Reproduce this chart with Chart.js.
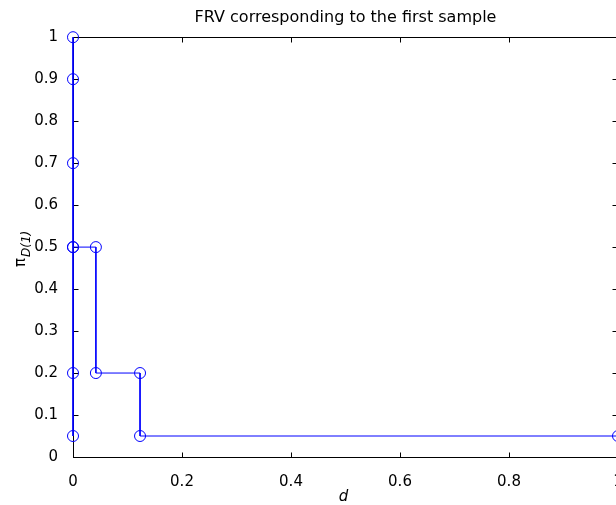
<!DOCTYPE html>
<html>
<head>
<meta charset="utf-8">
<script src="https://cdn.jsdelivr.net/npm/chart.js@4"></script>
<style>
  html, body { margin: 0; padding: 0; overflow: hidden; background: #fff; }
</style>
</head>
<body>
<canvas id="frvChart" width="640" height="505"></canvas>
<script>
var titleText = 'FRV corresponding to the first sample';

var xTicks = [0, 0.2, 0.4, 0.6, 0.8, 1];
var xTickLabels = ['0', '0.2', '0.4', '0.6', '0.8', '1'];
var yTicks = [0, 0.1, 0.2, 0.3, 0.4, 0.5, 0.6, 0.7, 0.8, 0.9, 1];
var yTickLabels = ['0', '0.1', '0.2', '0.3', '0.4', '0.5', '0.6', '0.7', '0.8', '0.9', '1'];

// points sitting on d = 0
var leftX = [0, 0, 0, 0, 0, 0];
var leftY = [1, 0.9, 0.7, 0.5, 0.2, 0.05];

// the step branch leaving from 0.5
var stepX = [0, 0.042, 0.042, 0.123, 0.123, 1];
var stepY = [0.5, 0.5, 0.2, 0.2, 0.05, 0.05];

function toPoints(xs, ys) {
  var pts = [];
  for (var i = 0; i < xs.length; i++) {
    pts.push({x: xs[i], y: ys[i]});
  }
  return pts;
}

function labelFor(ticks, labels, value) {
  for (var i = 0; i < ticks.length; i++) {
    if (Math.abs(ticks[i] - value) < 1e-9) return labels[i];
  }
  return '';
}

var fontFamily = "'DejaVu Sans', 'Liberation Sans', sans-serif";

// box round the axes, with the ticks pointing inwards like matlab does
var matlabAxes = {
  id: 'matlabAxes',
  beforeDatasetsDraw: function(chart) {
    var ctx = chart.ctx;
    var a = chart.chartArea;
    var x = chart.scales.x;
    var y = chart.scales.y;
    var L = Math.round(a.left) + 0.5, R = Math.round(a.right) + 0.5;
    var T = Math.round(a.top) + 0.5, B = Math.round(a.bottom) + 0.5;
    ctx.save();
    ctx.strokeStyle = '#000';
    ctx.lineWidth = 1;
    ctx.strokeRect(L, T, R - L, B - T);
    ctx.beginPath();
    xTicks.forEach(function(t) {
      var px = Math.round(x.getPixelForValue(t)) + 0.5;
      ctx.moveTo(px, B); ctx.lineTo(px, B - 5);
      ctx.moveTo(px, T); ctx.lineTo(px, T + 5);
    });
    yTicks.forEach(function(t) {
      var py = Math.round(y.getPixelForValue(t)) + 0.5;
      ctx.moveTo(L, py); ctx.lineTo(L + 5, py);
      ctx.moveTo(R, py); ctx.lineTo(R - 6, py);
    });
    ctx.stroke();
    ctx.restore();
  },
  afterDraw: function(chart) {
    var ctx = chart.ctx;
    var a = chart.chartArea;
    ctx.save();
    ctx.fillStyle = '#000';
    // x label
    ctx.font = 'italic 15px ' + fontFamily;
    ctx.textAlign = 'center';
    ctx.textBaseline = 'alphabetic';
    ctx.fillText('d', (a.left + a.right) / 2 - 2, 501);
    // y label: pi with subscript D(1)
    ctx.translate(25, 267);
    ctx.rotate(-Math.PI / 2);
    ctx.textAlign = 'left';
    ctx.font = '15px ' + fontFamily;
    ctx.fillText('\u03c0', 0, 0);
    var w = ctx.measureText('\u03c0').width;
    ctx.font = 'italic 12px ' + fontFamily;
    ctx.fillText('D(1)', w + 1, 5);
    ctx.restore();
  }
};

var ctx = document.getElementById('frvChart');
var frvChart = new Chart(ctx, {
  type: 'scatter',
  data: {
    datasets: [
      {
        data: toPoints(leftX, leftY),
        showLine: true,
        borderColor: '#0000ff',
        borderWidth: 1,
        pointStyle: 'circle',
        pointRadius: 5.5,
        pointBorderWidth: 1,
        pointBorderColor: '#0000ff',
        pointBackgroundColor: 'rgba(0,0,0,0)',
        clip: false
      },
      {
        data: toPoints(stepX, stepY),
        showLine: true,
        borderColor: '#0000ff',
        borderWidth: 1,
        pointStyle: 'circle',
        pointRadius: 5.5,
        pointBorderWidth: 1,
        pointBorderColor: '#0000ff',
        pointBackgroundColor: 'rgba(0,0,0,0)',
        clip: false
      }
    ]
  },
  options: {
    responsive: false,
    animation: false,
    layout: { padding: { left: 0, top: 0, right: 22, bottom: 0 } },
    plugins: {
      legend: { display: false },
      tooltip: { enabled: false },
      title: {
        display: true,
        text: titleText,
        fullSize: false,
        color: '#000',
        font: { family: fontFamily, size: 16, weight: 'normal', lineHeight: 1.2 },
        padding: { top: 8, bottom: 10 }
      }
    },
    scales: {
      x: {
        type: 'linear',
        min: 0,
        max: 1,
        grid: { display: false },
        border: { display: false },
        ticks: {
          stepSize: 0.2,
          padding: 8,
          color: '#000',
          maxRotation: 0,
          font: { family: fontFamily, size: 15 },
          callback: function(value) { return labelFor(xTicks, xTickLabels, value); }
        },
        afterFit: function(scale) { scale.height = 48; }
      },
      y: {
        type: 'linear',
        min: 0,
        max: 1,
        grid: { display: false },
        border: { display: false },
        ticks: {
          stepSize: 0.1,
          padding: 7,
          color: '#000',
          font: { family: fontFamily, size: 15 },
          callback: function(value) { return labelFor(yTicks, yTickLabels, value); }
        },
        afterFit: function(scale) { scale.width = 73; }
      }
    }
  },
  plugins: [matlabAxes]
});
</script>
</body>
</html>
